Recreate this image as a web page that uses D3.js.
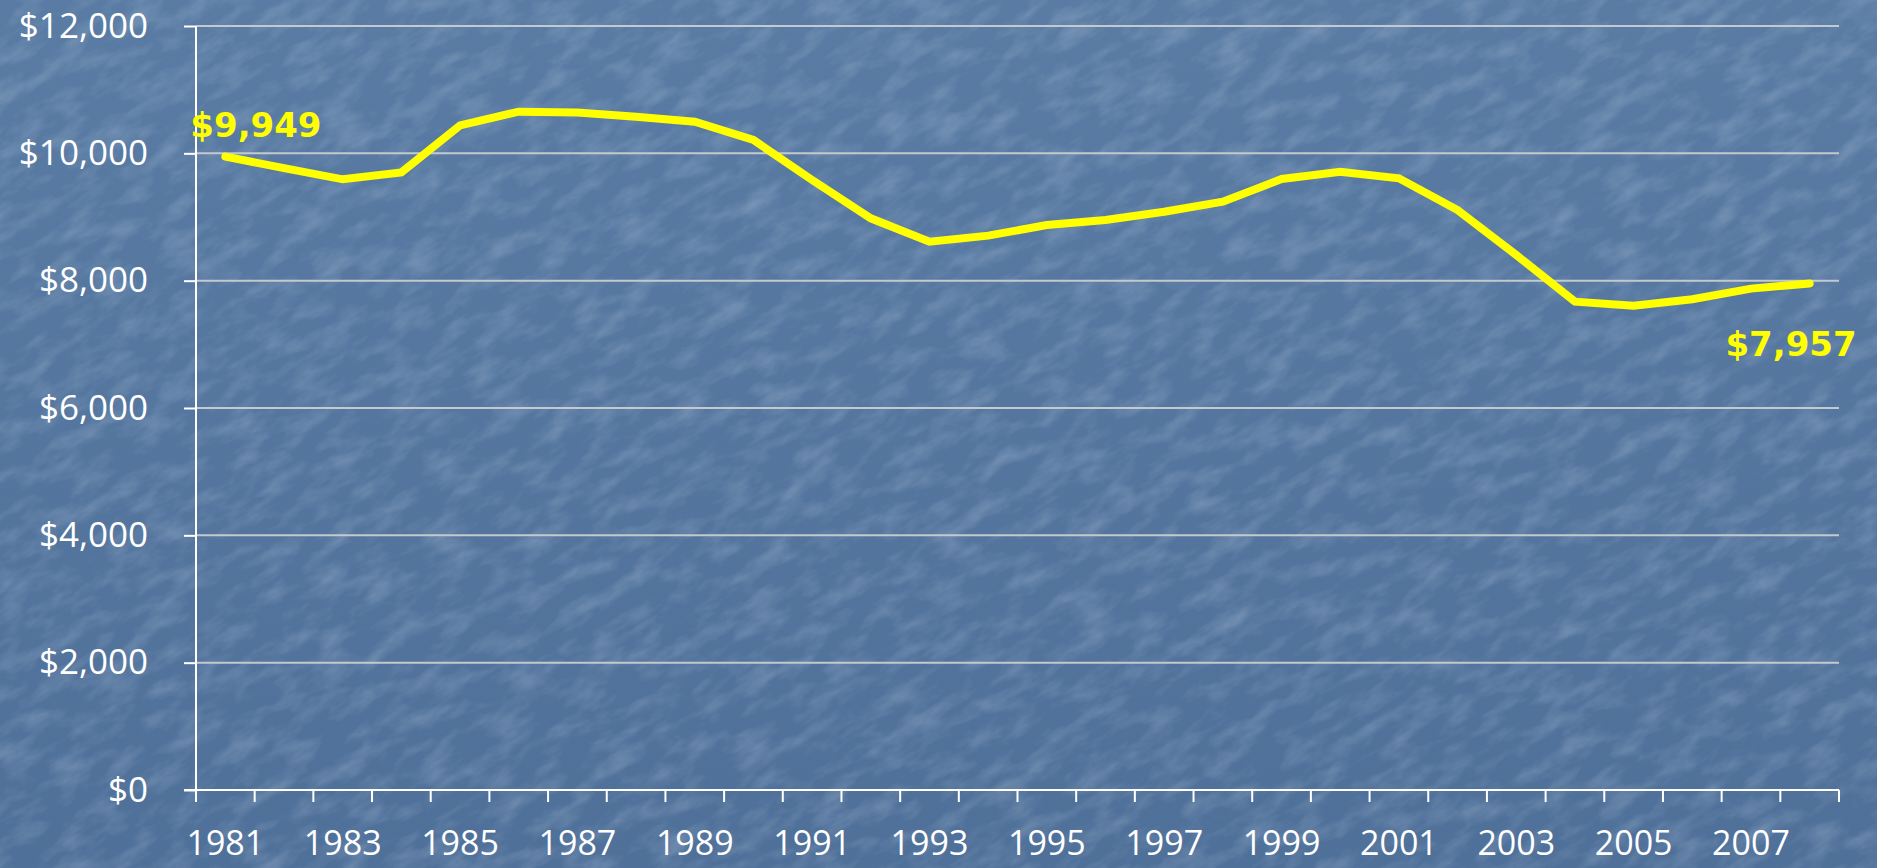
<!DOCTYPE html>
<html>
<head>
<meta charset="utf-8">
<script src="https://d3js.org/d3.v7.min.js"></script>
<style type="text/css">
html, body {
	margin: 0;
	padding: 0;
	overflow: hidden;
	background: #5678a0;
}
#chart text {
	font-family: "Open Sans", "Noto Sans", sans-serif;
}
</style>
</head>
<body>
<div id="chart"></div>

<script type="text/javascript">
var years = [1981, 1982, 1983, 1984, 1985, 1986, 1987, 1988, 1989, 1990,
	1991, 1992, 1993, 1994, 1995, 1996, 1997, 1998, 1999, 2000,
	2001, 2002, 2003, 2004, 2005, 2006, 2007, 2008];

// values (first and last are labelled)
var values = [9949, 9767, 9592, 9701, 10440, 10654, 10643, 10576, 10497, 10210,
	9581, 8979, 8612, 8707, 8874, 8953, 9083, 9241, 9597, 9712,
	9607, 9110, 8403, 7670, 7607, 7708, 7875, 7957];

var yTicks = [0, 2000, 4000, 6000, 8000, 10000, 12000];
var xLabelYears = [1981, 1983, 1985, 1987, 1989, 1991, 1993, 1995, 1997, 1999, 2001, 2003, 2005, 2007];

var width = 1877;
var height = 868;
var margin = {top: 26, right: 38, bottom: 78, left: 196};

var svg = d3.select("#chart")
	.append("svg")
	.attr("width", width)
	.attr("height", height);

// textured blue backdrop
var defs = svg.append("defs");
var filt = defs.append("filter")
	.attr("id", "grain")
	.attr("x", 0).attr("y", 0)
	.attr("width", "100%").attr("height", "100%");
filt.append("feTurbulence")
	.attr("type", "fractalNoise")
	.attr("baseFrequency", "0.025 0.06")
	.attr("numOctaves", 4)
	.attr("seed", 3);
filt.append("feColorMatrix")
	.attr("type", "matrix")
	.attr("values", "0 0 0 0 0.62  0 0 0 0 0.72  0 0 0 0 0.85  0 0 0 1.2 -0.5");

var shade = defs.append("linearGradient")
	.attr("id", "shade")
	.attr("x1", 0).attr("y1", 0).attr("x2", 0).attr("y2", 1);
shade.append("stop").attr("offset", "0%").attr("stop-color", "#5a7ca4");
shade.append("stop").attr("offset", "100%").attr("stop-color", "#4f7099");

svg.append("rect")
	.attr("width", width)
	.attr("height", height)
	.attr("fill", "url(#shade)");
svg.append("g")
	.attr("transform", "rotate(-30 938 434)")
	.append("rect")
	.attr("x", -600)
	.attr("y", -600)
	.attr("width", width + 1200)
	.attr("height", height + 1200)
	.attr("filter", "url(#grain)")
	.attr("opacity", 0.4);

var x = d3.scaleBand()
	.domain(years)
	.range([margin.left, width - margin.right])
	.padding(0);

var y = d3.scaleLinear()
	.domain([0, 12000])
	.range([height - margin.bottom, margin.top]);

function cx(yr) {
	return x(yr) + x.bandwidth() / 2;
}

// gridlines
svg.append("g")
	.selectAll("line")
	.data(yTicks.slice(1))
	.enter()
	.append("line")
	.attr("x1", margin.left)
	.attr("x2", width - margin.right)
	.attr("y1", function(d) { return y(d); })
	.attr("y2", function(d) { return y(d); })
	.attr("stroke", "#c4c8cf")
	.attr("stroke-width", 2);

// y axis
var yAxis = svg.append("g")
	.attr("transform", "translate(" + margin.left + ",0)")
	.call(d3.axisLeft(y)
		.tickValues(yTicks)
		.tickSize(12)
		.tickPadding(36)
		.tickFormat(function(d) { return "$" + d3.format(",")(d); }));
yAxis.select(".domain")
	.attr("d", "M0," + y(12000) + "V" + y(0))
	.attr("stroke", "#ffffff")
	.attr("stroke-width", 2);
yAxis.selectAll(".tick line")
	.attr("stroke", "#ffffff")
	.attr("stroke-width", 2);
yAxis.selectAll(".tick text")
	.attr("fill", "#ffffff")
	.style("font-size", "35px");

// x axis: baseline, boundary ticks, labels every other year
var xAxis = svg.append("g")
	.attr("transform", "translate(0," + y(0) + ")")
	.call(d3.axisBottom(x)
		.tickValues(xLabelYears)
		.tickSize(0)
		.tickPadding(41));
xAxis.select(".domain").remove();
xAxis.selectAll(".tick text")
	.attr("fill", "#ffffff")
	.style("font-size", "34px");

xAxis.append("line")
	.attr("x1", margin.left - 12)
	.attr("x2", width - margin.right)
	.attr("stroke", "#ffffff")
	.attr("stroke-width", 2);

var bounds = years.map(function(yr) { return x(yr); });
bounds.push(x(years[years.length - 1]) + x.bandwidth());
xAxis.selectAll(".bound")
	.data(bounds)
	.enter()
	.append("line")
	.attr("class", "bound")
	.attr("x1", function(d) { return d; })
	.attr("x2", function(d) { return d; })
	.attr("y1", 0)
	.attr("y2", 12)
	.attr("stroke", "#ffffff")
	.attr("stroke-width", 2);

// the line
var line = d3.line()
	.x(function(d, i) { return cx(years[i]); })
	.y(function(d) { return y(d); });

svg.append("path")
	.datum(values)
	.attr("d", line)
	.attr("fill", "none")
	.attr("stroke", "#ffff00")
	.attr("stroke-width", 8)
	.attr("stroke-linejoin", "miter")
	.attr("stroke-linecap", "round");

// end labels
var last = values.length - 1;
svg.append("text")
	.attr("x", cx(years[0]) - 35)
	.attr("y", y(values[0]) - 20)
	.attr("fill", "#ffff00")
	.style("font-family", "'DejaVu Sans', sans-serif")
	.style("font-weight", "bold")
	.style("font-size", "34px")
	.text("$" + d3.format(",")(values[0]));

svg.append("text")
	.attr("x", cx(years[last]) + 47)
	.attr("y", y(values[last]) + 73)
	.attr("text-anchor", "end")
	.attr("fill", "#ffff00")
	.style("font-family", "'DejaVu Sans', sans-serif")
	.style("font-weight", "bold")
	.style("font-size", "34px")
	.text("$" + d3.format(",")(values[last]));
</script>
</body>
</html>
